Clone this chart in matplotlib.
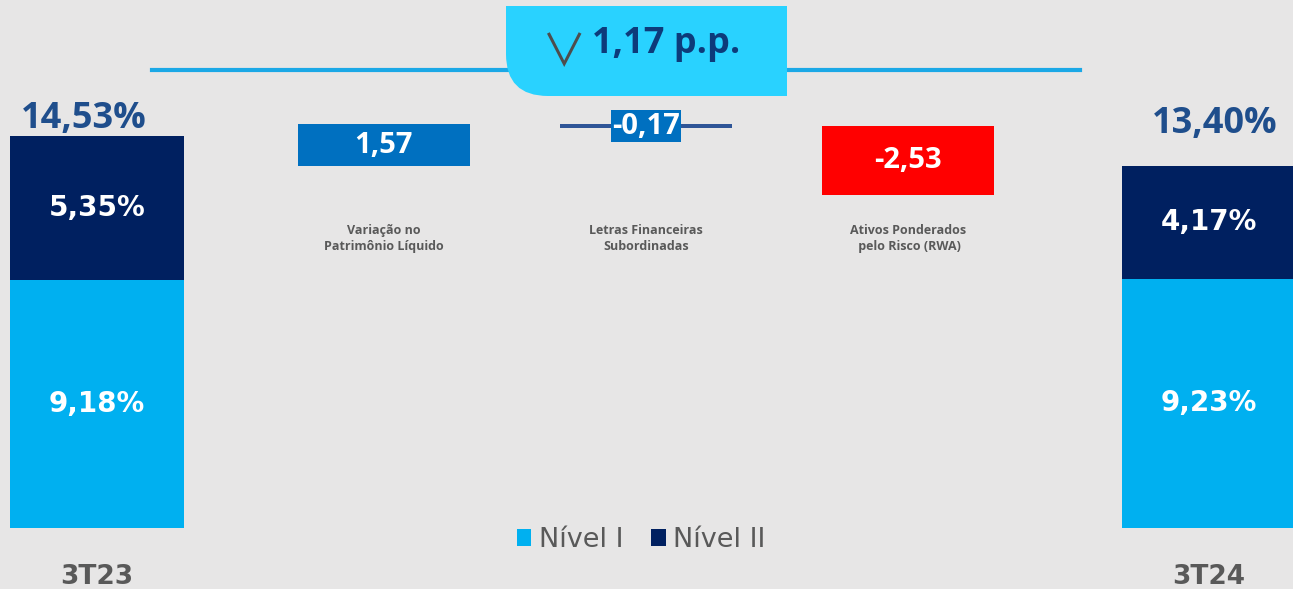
import matplotlib.pyplot as plt
from matplotlib.patches import PathPatch
from matplotlib.path import Path
from matplotlib.lines import Line2D

# data
periods = ['3T23', '3T24']
nivel1 = [9.18, 9.23]
nivel2 = [5.35, 4.17]
totals = [14.53, 13.40]

steps = ['Variação no\nPatrimônio Líquido',
         'Letras Financeiras\nSubordinadas',
         'Ativos Ponderados\n pelo Risco (RWA)']
step_values = [1.57, -0.17, -2.53]
step_start = [13.40, 14.97, 14.88]   # level where each floating bar starts
delta_text = '1,17 p.p.'

# layout / style
W, H = 1293, 589
BG = '#E7E6E6'
C_N1 = '#00B0F0'
C_N2 = '#002060'
step_colors = ['#0070C0', '#2F5597', '#FF0000']
GRAY = '#595959'
unit = 27.0            # px per p.p.
base_px = 528          # pixel row of zero
side_x = [0.0, 4.244]
step_x = [1.095, 2.095, 3.095]
total_dx = [-0.05, 0.022]      # nudge of the total labels
total_y = [15.15, 14.97]


def fmt(v, pct=False):
    s = f'{v:.2f}'.replace('.', ',')
    return s + '%' if pct else s


def fx(x):
    return x / W


def fy(y):
    return 1 - y / H


fig = plt.figure(figsize=(W / 100, H / 100), dpi=100, facecolor=BG)
ax = fig.add_axes([0, 0, 1, 1])
ax.set_facecolor(BG)
ax.axis('off')
ax.set_xlim(-97 / 262, (W - 97) / 262)
ax.set_ylim(-(H - base_px) / unit, base_px / unit)

# stacked bars 3T23 / 3T24
b1 = ax.bar(side_x, nivel1, width=0.664, color=C_N1, label='Nível I')
b2 = ax.bar(side_x, nivel2, width=0.664, bottom=nivel1, color=C_N2, label='Nível II')

for i, (x, a, b, t, p) in enumerate(zip(side_x, nivel1, nivel2, totals, periods)):
    ax.text(x, a / 2, fmt(a, True), ha='center', va='center', color='white',
            fontsize=20, fontweight='bold', family='DejaVu Sans')
    ax.text(x, a + b / 2, fmt(b, True), ha='center', va='center', color='white',
            fontsize=20, fontweight='bold', family='DejaVu Sans')
    ax.text(x + total_dx[i], total_y[i], fmt(t, True), ha='center', va='center',
            color='#1F4E8C', fontsize=26, fontweight='bold', family='Open Sans')
    ax.text(x, -(584 - base_px) / unit, p, ha='center', va='baseline',
            color=GRAY, fontsize=19, fontweight='bold', family='DejaVu Sans')

# floating bars
for x, v, s, c, name in zip(step_x, step_values, step_start, step_colors, steps):
    ax.bar(x, v, bottom=s, width=0.657, color=c)
    mid = s + v / 2
    box = None
    if abs(v) < 0.5:
        box = dict(boxstyle='square,pad=0.05', facecolor='#0070C0', edgecolor='none')
    ax.text(x, mid, fmt(v), ha='center', va='center', color='white',
            fontsize=21, fontweight='bold', family='Open Sans', bbox=box)
    ax.text(x, (base_px - 238) / unit, name, ha='center', va='center',
            color=GRAY, fontsize=9, fontweight='bold', family='Open Sans',
            linespacing=1.3)

# legend
fig.legend(handles=[b1, b2], loc='center', bbox_to_anchor=(fx(641), fy(540)),
           ncol=2, frameon=False, prop=dict(family='DejaVu Sans', size=19.5),
           labelcolor=GRAY, handlelength=0.55, handleheight=0.55,
           handletextpad=0.28, columnspacing=1.0)

# header: line + tab with delta
fig.add_artist(Line2D([fx(152), fx(1080)], [fy(70), fy(70)], color='#1BA8E6',
                      lw=3, transform=fig.transFigure, zorder=1))
x0, x1, y0, y1, r = 506, 787, 6, 96, 42
verts = [(x0, y0), (x1, y0), (x1, y1), (x0 + r, y1), (x0, y1), (x0, y1 - r), (x0, y0)]
codes = [Path.MOVETO, Path.LINETO, Path.LINETO, Path.LINETO,
         Path.CURVE3, Path.CURVE3, Path.CLOSEPOLY]
path = Path([(fx(a), fy(b)) for a, b in verts], codes)
fig.add_artist(PathPatch(path, facecolor='#29D2FF', edgecolor='none',
                         transform=fig.transFigure, zorder=2))
fig.text(fx(564), fy(53), '∨', ha='center', va='center', color='#4D4D4D',
         fontsize=32, fontweight='normal',
         family=['Noto Sans CJK JP', 'DejaVu Sans'], zorder=3)
fig.text(fx(592), fy(53), delta_text, ha='left', va='baseline', color='#0D3B7A',
         fontsize=26, fontweight='bold', family='Open Sans', zorder=3)

fig.savefig('out.png', dpi=100, facecolor=BG)
